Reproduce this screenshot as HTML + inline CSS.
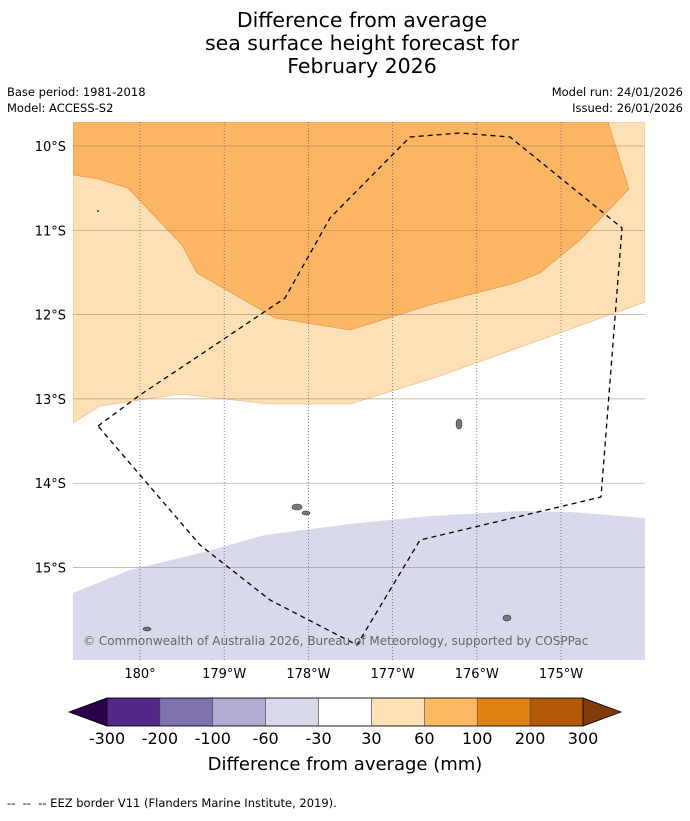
<!DOCTYPE html>
<html><head><meta charset="utf-8"><style>
body{margin:0;background:#fff;font-family:"Liberation Sans","DejaVu Sans",sans-serif}
svg text{font-family:"DejaVu Sans","Liberation Sans",sans-serif}
</style></head><body>
<svg id="c" width="690" height="816" viewBox="0 0 690 816" xmlns="http://www.w3.org/2000/svg">
<g font-size="20.5" text-anchor="middle" fill="#000">
<text x="362" y="27">Difference from average</text>
<text x="362" y="50">sea surface height forecast for</text>
<text x="362" y="73">February 2026</text>
</g>
<g font-size="11.5" fill="#000">
<text x="7" y="96">Base period: 1981-2018</text>
<text x="7" y="112">Model: ACCESS-S2</text>
<text x="683" y="96" text-anchor="end">Model run: 24/01/2026</text>
<text x="683" y="112" text-anchor="end">Issued: 26/01/2026</text>
</g>
<defs><clipPath id="mc"><rect x="73" y="122" width="572" height="538"/></clipPath></defs>
<g id="map" clip-path="url(#mc)"></g>
<g id="axes"></g>
<g id="cbar"></g>
<text x="345" y="770" font-size="18" text-anchor="middle">Difference from average (mm)</text>
<text x="7" y="807" font-size="11.5" xml:space="preserve">--  --  -- EEZ border V11 (Flanders Marine Institute, 2019).</text>
</svg>
<script>
const lonTicks=[180,181,182,183,184,185];
const lonLabels=["180°","179°W","178°W","177°W","176°W","175°W"];
const latTicks=[10,11,12,13,14,15];
const latLabels=["10°S","11°S","12°S","13°S","14°S","15°S"];
const levels=["-300","-200","-100","-60","-30","30","60","100","200","300"];
const levelColors=["#542788","#8073ac","#b2abd2","#d8daeb","#ffffff","#fee0b6","#fdb863","#e08214","#b35806"];
const extendColors=["#2d004b","#7f3b08"];
const beige="73,122 645,122 645,302 540,340 437,377 350,404 270,404 180,394 100,406 73,423";
const orange="73,122 608,122 629,189 580,240 540,273 515,283 430,305 350,330 275,318 197,273 182,245 128,188 98,179 73,175";
const lav="73,593 130,570 200,553 265,535 350,524 430,516 520,511 570,512 645,518 645,660 73,660";
const eez="98,426 140,395 200,355 285,298 330,218 410,137 460,133 510,137 622,228 601,497 420,540 357,645 270,600 200,545 98,426";
const X=l=>140+(l-180)*84.2, Y=l=>146+(l-10)*84.3;
const NS="http://www.w3.org/2000/svg";
function mk(t,a,p){const e=document.createElementNS(NS,t);for(const k in a)e.setAttribute(k,a[k]);p.appendChild(e);return e;}
const map=document.getElementById('map'),ax=document.getElementById('axes'),cb=document.getElementById('cbar');
let e;
e=mk('rect',{x:73,y:122,width:572,height:538,fill:'#fff'},map);

e=mk('polygon',{points:beige,fill:'#fee0b6',stroke:'#e6b27a','stroke-width':0.6},map);

e=mk('polygon',{points:orange,fill:'#fbb563',stroke:'#d9903e','stroke-width':0.6},map);

e=mk('polygon',{points:lav,fill:'#d8daeb'},map);

latTicks.forEach((v,i)=>{const y=Y(v);
 e=mk('line',{x1:73,x2:645,y1:y,y2:y,stroke:'#a08060','stroke-width':0.7,opacity:0.7},map);
 
 e=mk('text',{x:66,y:y+5,'font-size':13,'text-anchor':'end'},ax);e.textContent=latLabels[i];
 });
lonTicks.forEach((v,i)=>{const x=X(v);
 e=mk('line',{x1:x,x2:x,y1:122,y2:660,stroke:'#55558a','stroke-width':0.7,'stroke-dasharray':'1,2'},map);
 
 e=mk('text',{x:x,y:678,'font-size':13,'text-anchor':'middle'},ax);e.textContent=lonLabels[i];
 });
e=mk('polyline',{points:eez,fill:'none',stroke:'#000','stroke-width':1.3,'stroke-dasharray':'5,4'},map);

[[459,424,3,5],[297,507,5,3],[306,513,4,2],[507,618,4,3],[147,629,4,2],[212,662,2,2]].forEach(p=>{
 e=mk('ellipse',{cx:p[0],cy:p[1],rx:p[2],ry:p[3],fill:'#777',stroke:'#333','stroke-width':0.6},map);
 });
e=mk('circle',{cx:98,cy:211,r:1,fill:'#333'},map);

e=mk('text',{x:83,y:645,'font-size':12,fill:'#666'},map);e.textContent='© Commonwealth of Australia 2026, Bureau of Meteorology, supported by COSPPac';

const cx0=107,cw=476/levelColors.length,cy=698,ch=28;
e=mk('polygon',{points:`${cx0},${cy} ${cx0},${cy+ch} 69,${cy+ch/2}`,fill:extendColors[0],stroke:'#000','stroke-width':0.8},cb);

const xe=cx0+cw*levelColors.length;
e=mk('polygon',{points:`${xe},${cy} ${xe},${cy+ch} 621,${cy+ch/2}`,fill:extendColors[1],stroke:'#000','stroke-width':0.8},cb);

levelColors.forEach((c,i)=>{
 e=mk('rect',{x:cx0+i*cw,y:cy,width:cw,height:ch,fill:c,stroke:'#444','stroke-width':0.5},cb);
 });
e=mk('rect',{x:cx0,y:cy,width:cw*levelColors.length,height:ch,fill:'none',stroke:'#000','stroke-width':0.8},cb);

levels.forEach((l,i)=>{
 e=mk('text',{x:cx0+i*cw,y:744,'font-size':16,'text-anchor':'middle'},cb);e.textContent=l;
 });
</script>
</body></html>
